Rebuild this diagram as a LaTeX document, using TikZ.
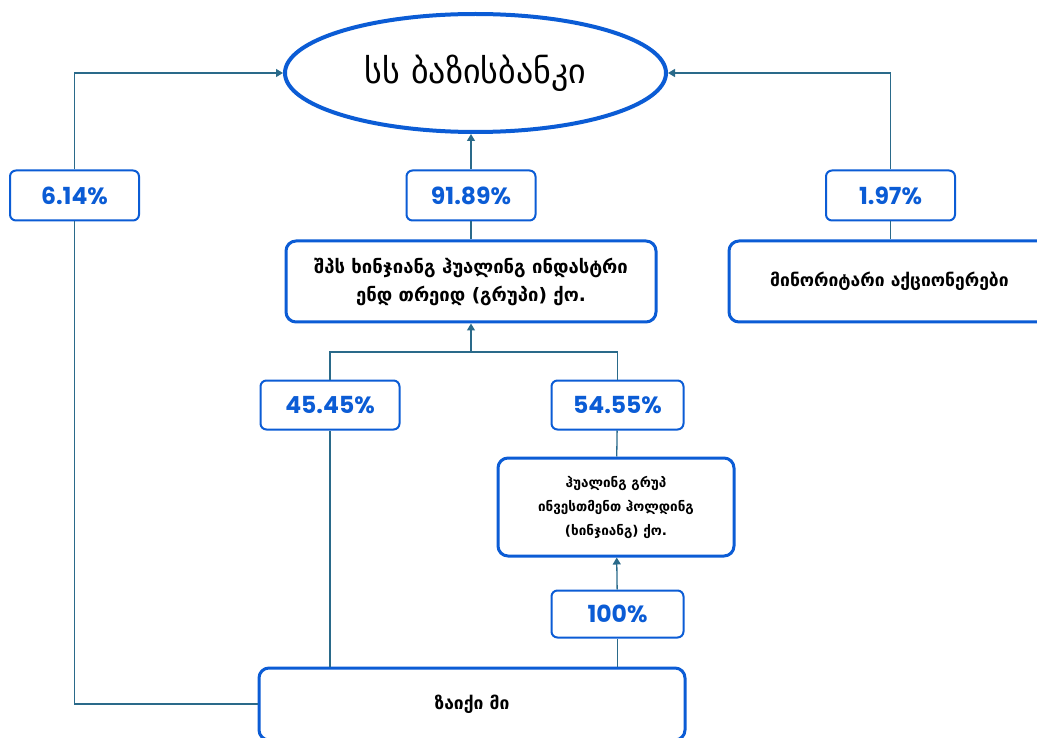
\documentclass[tikz,border=0pt]{standalone}
\usepackage{fontspec}
\setmainfont{DejaVu Sans}
\newfontfamily\numfont{Poppins}
\usetikzlibrary{shapes.geometric,arrows.meta}

\definecolor{boxblue}{HTML}{0B5CD5}
\definecolor{linkteal}{HTML}{2A6A8A}

\begin{document}
\begin{tikzpicture}[x=1pt,y=-1pt,
    entity/.style={draw=boxblue, line width=3pt, rounded corners=10pt, fill=white,
        align=center, inner sep=0pt, font=\bfseries\fontsize{17.5}{28}\selectfont},
    pct/.style={draw=boxblue, line width=2pt, rounded corners=6pt, fill=white,
        inner sep=0pt, text=boxblue, font=\numfont\bfseries\fontsize{23.5}{26}\selectfont},
    link/.style={draw=linkteal, line width=1.3pt},
    tip/.style={link, -{Triangle[length=7pt,width=8pt]}}]
    \clip (0,0) rectangle (1037,738);

    % Bank on top
    \node[ellipse, draw=boxblue, line width=4pt, fill=white, minimum width=381pt,
        minimum height=118pt, font=\fontsize{34}{40}\selectfont] (bank) at (475.5,73) {სს ბაზისბანკი};

    % Owners
    \node[entity, minimum width=370pt, minimum height=81pt, font=\bfseries\fontsize{18.5}{28}\selectfont]
        (industry) at (471,281.5) {შპს ხინჯიანგ ჰუალინგ ინდასტრი\\ენდ თრეიდ (გრუპი) ქო.};
    \node[entity, minimum width=321pt, minimum height=81pt] (minority) at (889.5,281.5)
        {მინორიტარი აქციონერები};
    \node[entity, minimum width=236pt, minimum height=98pt, font=\bfseries\fontsize{13.5}{24}\selectfont]
        (holding) at (616,507) {ჰუალინგ გრუპ\\ინვესთმენთ ჰოლდინგ\\(ხინჯიანგ) ქო.};
    \node[entity, minimum width=426pt, minimum height=72pt] (zaiqi) at (472,704) {ზაიქი მი};

    % Shares
    \node[pct, minimum width=129pt, minimum height=50pt] (p614) at (74.5,195.5) {6.14\%};
    \node[pct, minimum width=129pt, minimum height=50pt] (p9189) at (471,195.5) {91.89\%};
    \node[pct, minimum width=129pt, minimum height=50pt] (p197) at (890.5,195.5) {1.97\%};
    \node[pct, minimum width=139pt, minimum height=49pt] (p4545) at (330,405) {45.45\%};
    \node[pct, minimum width=132pt, minimum height=49pt] (p5455) at (617.5,405) {54.55\%};
    \node[pct, minimum width=132pt, minimum height=47pt] (p100) at (617.5,614) {100\%};

    \coordinate (split) at (471,352);

    % Links
    \draw[link] (zaiqi.west) -| (p614);
    \draw[tip] (p614) |- (bank.west);
    \draw[link] (industry) -- (p9189);
    \draw[tip] (p9189) -- (p9189 |- bank.south);
    \draw[link] (p197 |- minority.north) -- (p197);
    \draw[tip] (p197) |- (bank.east);
    \draw[link] (p4545 |- zaiqi.north) -- (p4545);
    \draw[link] (p4545) |- (split);
    \draw[link] (holding) -- (p5455);
    \draw[link] (p5455) |- (split);
    \draw[tip] (split) -- (industry);
    \draw[link] (p100 |- zaiqi.north) -- (p100);
    \draw[tip] (p100) -- (holding);
\end{tikzpicture}
\end{document}
